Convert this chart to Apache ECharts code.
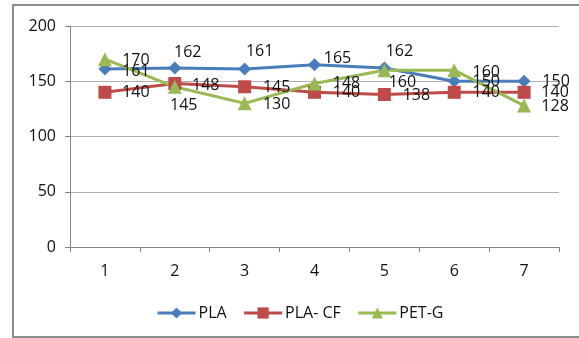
<!DOCTYPE html>
<html>
<head>
<meta charset="utf-8">
<script src="https://cdn.jsdelivr.net/npm/echarts@6/dist/echarts.min.js"></script>
<style>
  html, body { margin: 0; padding: 0; background: #fff; }
  #chart { width: 579px; height: 338px; }
</style>
</head>
<body>
<div id="chart"></div>
<script>
// Sample numbers along the x axis
const categories = ['1', '2', '3', '4', '5', '6', '7'];

// Measured values for each material
const plaValues = [161, 162, 161, 165, 162, 150, 150];
const plaCfValues = [140, 148, 145, 140, 138, 140, 140];
const petgValues = [170, 145, 130, 148, 160, 160, 128];

// Value axis ticks
const yTicks = [0, 50, 100, 150, 200];

// Label nudges (centre of text relative to the point), kept apart from the data
const plaLabelShift = [[31, 2], [13, -16], [15, -18], [23, -6], [15, -17], [32, 0], [32, 0]];
const plaCfLabelShift = [[31, 0], [31, 2], [32, 1], [32, 0], [32, 1], [32, 0], [31, 0]];
const petgLabelShift = [[31, 1], [9, 19], [32, 1], [32, 0], [18, 12], [32, 2], [31, 1]];

const FONT = '"Open Sans", "Noto Sans", sans-serif';
const FONT_SIZE = 16;

function buildData(values, shifts) {
  return values.map((v, i) => ({
    value: v,
    label: { offset: shifts[i] }
  }));
}

function makeSeries(name, values, shifts, color, symbol, size) {
  return {
    name: name,
    type: 'line',
    data: buildData(values, shifts),
    symbol: symbol,
    symbolSize: size,
    lineStyle: { color: color, width: 3 },
    itemStyle: { color: color },
    label: {
      show: true,
      position: 'inside',
      align: 'center',
      verticalAlign: 'middle',
      color: '#111',
      fontFamily: FONT,
      fontSize: FONT_SIZE
    },
    emphasis: { disabled: true },
    animation: false
  };
}

const chart = echarts.init(document.getElementById('chart'), null, { renderer: 'canvas' });

chart.setOption({
  backgroundColor: '#fff',
  animation: false,
  grid: { left: 70, right: 20, top: 26, bottom: 91, containLabel: false },
  graphic: [{
    type: 'rect',
    shape: { x: 13, y: 5, width: 620, height: 332 },
    style: { fill: 'none', stroke: '#8c8c8c', lineWidth: 2 },
    silent: true,
    z: -1
  }],
  legend: {
    left: 151,
    top: 300,
    itemWidth: 38,
    itemHeight: 14,
    itemGap: 16,
    lineStyle: { width: 3 },
    textStyle: { fontFamily: FONT, fontSize: FONT_SIZE, color: '#111', padding: [0, 0, 0, -2] },
    data: ['PLA', 'PLA- CF', 'PET-G']
  },
  xAxis: {
    type: 'category',
    data: categories,
    boundaryGap: true,
    axisLine: { lineStyle: { color: '#868686', width: 1 } },
    axisTick: { show: true, length: 5, alignWithLabel: false, lineStyle: { color: '#868686' } },
    axisLabel: { color: '#111', fontFamily: FONT, fontSize: FONT_SIZE, margin: 16 }
  },
  yAxis: {
    type: 'value',
    min: yTicks[0],
    max: yTicks[yTicks.length - 1],
    interval: yTicks[1] - yTicks[0],
    axisLine: { show: true, lineStyle: { color: '#868686', width: 1 } },
    axisTick: { show: true, length: 5, lineStyle: { color: '#868686' } },
    axisLabel: { color: '#111', fontFamily: FONT, fontSize: FONT_SIZE, margin: 14 },
    splitLine: { lineStyle: { color: '#b0b0b0', width: 1 } }
  },
  series: [
    makeSeries('PLA', plaValues, plaLabelShift, '#4a7ebb', 'diamond', 13),
    makeSeries('PLA- CF', plaCfValues, plaCfLabelShift, '#be4b48', 'rect', 13),
    makeSeries('PET-G', petgValues, petgLabelShift, '#98b954', 'triangle', 14)
  ]
});
</script>
</body>
</html>
